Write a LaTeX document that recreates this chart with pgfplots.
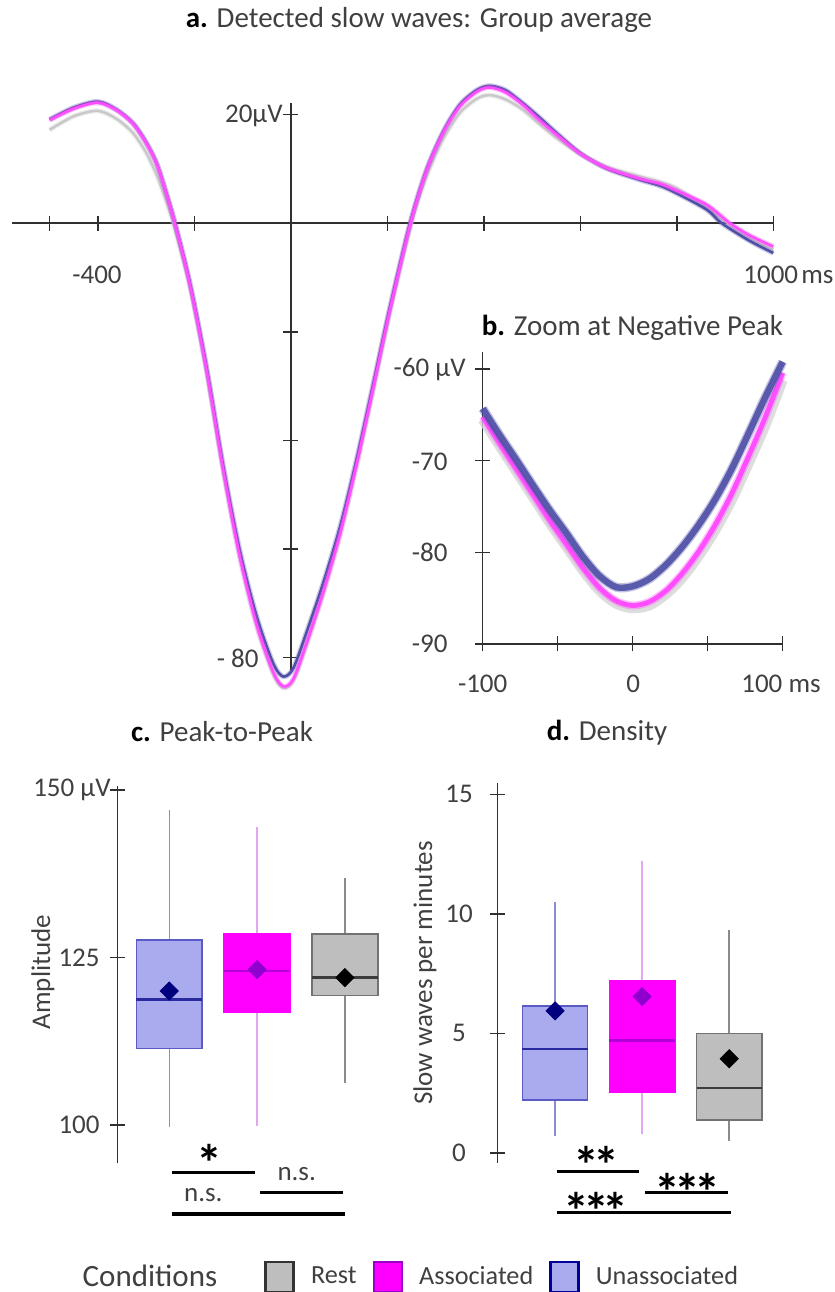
\documentclass[border=0pt]{standalone}
\usepackage{fontspec}
\setmainfont{Carlito}
\usepackage{pgfplots}
\pgfplotsset{compat=1.18}
\usepackage{pgfplotstable}
\usepgfplotslibrary{statistics}

\definecolor{txt}{HTML}{404040}
\definecolor{axisc}{HTML}{303030}
\definecolor{unasLine}{HTML}{4F4FA8}
\definecolor{assocLine}{HTML}{FF4DFF}
\definecolor{restLine}{HTML}{C9C9C9}
\definecolor{unasFill}{HTML}{AAAAEE}
\definecolor{unasDraw}{HTML}{5A5AC4}
\definecolor{unasMed}{HTML}{2A2AA0}
\definecolor{unasWhisk}{HTML}{8C8CD2}
\definecolor{unasMean}{HTML}{00007E}
\definecolor{assocFill}{HTML}{FF00FF}
\definecolor{assocMed}{HTML}{B400D8}
\definecolor{assocWhisk}{HTML}{E2A6F2}
\definecolor{assocMean}{HTML}{8F00CF}
\definecolor{restFill}{HTML}{BEBEBE}
\definecolor{restDraw}{HTML}{727272}
\definecolor{restMed}{HTML}{3C3C3C}
\definecolor{restWhisk}{HTML}{8A8A8A}
\definecolor{legUnas}{HTML}{000099}
\definecolor{legAssoc}{HTML}{9A00CC}
\definecolor{legRest}{HTML}{333333}

\newcommand\lab{\fontsize{13.5}{16}\selectfont}
\newcommand\ttl{\fontsize{14.5}{17}\selectfont}
\newcommand\stars{\fontsize{26}{26}\selectfont\bfseries}

% ---- a. group average waveforms (ms, microvolt)
\pgfplotstableread{
t v
-500 19.1
-450 21.3
-400 22.4
-361 20.9
-327 18.4
-300 14.9
-278 11.0
-260 6.1
-240 0.0
-209 -11.1
-175 -26.4
-140 -44.8
-106 -60.2
-71 -72.4
-37 -81.0
-16 -83.5
5 -82.0
32 -75.5
67 -66.3
102 -55.9
136 -43.6
171 -29.5
205 -15.6
247 0.0
281 9.8
316 16.9
350 21.8
385 24.5
412 25.3
445 24.5
481 22.1
515 19.5
551 16.6
600 12.9
654 10.1
723 8.0
765 6.9
800 5.5
862 2.5
893 0.0
950 -3.2
1000 -5.5
}\unasA
\pgfplotstableread{
t v
-500 19.0
-450 21.1
-400 22.2
-361 20.8
-327 18.3
-300 14.8
-278 10.9
-260 6.0
-240 -0.2
-209 -11.4
-175 -26.9
-140 -45.5
-106 -61.3
-71 -73.9
-37 -82.6
-16 -85.3
5 -84.0
32 -77.5
67 -68.0
102 -57.2
136 -44.5
171 -30.2
205 -16.1
248 0.0
281 9.6
316 16.7
350 21.5
385 24.2
412 25.0
445 24.1
481 21.8
515 19.0
551 16.3
600 12.8
654 10.2
723 8.2
765 7.3
800 6.0
862 3.4
910 0.0
950 -2.2
1000 -4.3
}\assocA
\pgfplotstableread{
t v
-500 17.2
-450 19.7
-400 20.7
-361 19.2
-327 16.6
-300 13.0
-278 8.9
-260 4.5
-244 0.0
-209 -11.8
-175 -27.2
-140 -45.6
-106 -61.5
-71 -74.1
-37 -82.9
-16 -85.6
5 -84.3
32 -77.8
67 -68.3
102 -57.4
136 -44.7
171 -30.6
205 -16.6
250 0.0
283 9.0
316 15.6
350 20.3
385 22.9
412 23.6
445 22.8
481 20.9
515 18.3
551 15.7
600 12.7
654 10.4
723 8.6
765 7.6
800 6.4
862 2.9
906 0.0
950 -2.6
1000 -4.9
}\restA

% ---- b. negative peak, -100 to 100 ms
\pgfplotstableread{
t v
-100 -64.3
-88.7 -67.2
-77.6 -69.9
-66.4 -72.7
-55.3 -75.4
-44.2 -77.9
-33.1 -80.5
-22 -82.6
-11 -83.8
0 -83.7
11 -82.9
22 -81.4
33 -79.4
44 -77.0
55 -74.2
66 -70.9
77 -67.1
88 -63.2
100 -59.2
}\unasB
\pgfplotstableread{
t v
-100 -65.2
-88.7 -68.1
-77.6 -70.9
-66.4 -73.7
-55.3 -76.5
-44.2 -79.1
-33.1 -81.7
-22 -83.9
-11 -85.3
0 -85.8
11 -85.4
22 -84.2
33 -82.3
44 -79.9
55 -77.0
66 -73.6
77 -69.6
88 -65.4
100 -60.4
}\assocB
\pgfplotstableread{
t v
-100 -65.5
-88.7 -68.4
-77.6 -71.2
-66.4 -74.0
-55.3 -76.8
-44.2 -79.4
-33.1 -82.0
-22 -84.2
-11 -85.6
0 -86.1
11 -85.8
22 -84.6
33 -82.8
44 -80.4
55 -77.6
66 -74.3
77 -70.4
88 -66.3
100 -61.2
}\restB

\pgfplotsset{
  panel/.style={scale only axis, enlargelimits=false, clip=false,
    axis line style={-, draw=axisc, line width=0.75pt},
    tick style={draw=axisc, line width=0.75pt},
    tick align=center, major tick length=7.5pt,
    xticklabels={}, yticklabels={}},
  halo/.style={line width=2.6pt, opacity=0.3, smooth},
  core/.style={line width=1.3pt, smooth},
  sbox/.style={boxplot/draw direction=y, boxplot/box extend=0.75, boxplot/whisker extend=0},
}

\begin{document}
\begin{tikzpicture}
\useasboundingbox (0,0) rectangle (417.5pt,646pt);

% a. Detected slow waves
\begin{axis}[panel, at={(6pt,311pt)}, anchor=south west,
  width=380.65pt, height=283.65pt,
  xmin=-578, xmax=1000, ymin=-82.3, ymax=22.2,
  axis lines=middle, axis line style={-},
  xtick={-500,-400,-200,200,400,600,800,1000},
  ytick={-80,-60,-40,-20,20}]
\addplot[restLine, halo] table[x=t,y=v] {\restA};
\addplot[restLine, core] table[x=t,y=v] {\restA};
\addplot[unasLine, halo] table[x=t,y=v] {\unasA};
\addplot[unasLine, core] table[x=t,y=v] {\unasA};
\addplot[assocLine, halo] table[x=t,y=v] {\assocA};
\addplot[assocLine, core] table[x=t,y=v] {\assocA};
\end{axis}

% b. Zoom at negative peak
\begin{axis}[panel, at={(241.35pt,324pt)}, anchor=south west,
  width=150pt, height=146.15pt,
  xmin=-100, xmax=100, ymin=-90, ymax=-58.1,
  axis x line=bottom, axis y line=left, axis line style={-},
  xtick={-100,-50,0,50,100}, ytick={-90,-80,-70,-60}]
\addplot[restLine!80, line width=5pt, opacity=0.8, smooth] table[x=t,y=v] {\restB};
\addplot[assocLine, line width=4pt, opacity=0.35, smooth] table[x=t,y=v] {\assocB};
\addplot[assocLine, line width=2.4pt, smooth] table[x=t,y=v] {\assocB};
\addplot[unasLine, line width=4.6pt, opacity=0.35, smooth] table[x=t,y=v] {\unasB};
\addplot[unasLine, line width=3.2pt, opacity=0.9, smooth] table[x=t,y=v] {\unasB};
\end{axis}

% c. Peak-to-peak amplitude
\begin{axis}[panel, at={(58.85pt,64.35pt)}, anchor=south west,
  width=135.55pt, height=188.65pt,
  xmin=0.412, xmax=3.5, ymin=94.28, ymax=150.6,
  axis y line=left, axis x line=none, axis line style={-},
  xtick=\empty, ytick={100,125,150},
  legend style={at={(0.5397,-0.3013)}, anchor=west, draw=none, fill=none,
    legend columns=-1, inner sep=0pt, font=\fontsize{13.1}{16}\selectfont,
    text=txt, nodes={inner sep=0pt},
    /tikz/every odd column/.append style={column sep=8pt},
    /tikz/every even column/.append style={column sep=8pt}}]
\addlegendimage{legend image code/.code={\draw[fill=restFill, draw=legRest, line width=1.3pt] (0pt,-7.5pt) rectangle (14pt,7.5pt);}}
\addlegendentry{Rest}
\addlegendimage{legend image code/.code={\draw[fill=assocFill, draw=legAssoc, line width=1.3pt] (0pt,-7.5pt) rectangle (14pt,7.5pt);}}
\addlegendentry{Associated}
\addlegendimage{legend image code/.code={\draw[fill=unasFill, draw=legUnas, line width=1.3pt] (0pt,-7.5pt) rectangle (14pt,7.5pt);}}
\addlegendentry{Unassociated}
\addplot[sbox, boxplot prepared={lower whisker=99.75, lower quartile=111.4,
    median=118.7, upper quartile=127.6, upper whisker=147.0, draw position=1},
  fill=unasFill, draw=unasDraw, line width=0.8pt,
  boxplot/every median/.style={draw=unasMed, line width=1.3pt},
  boxplot/every whisker/.style={draw=unasWhisk, line width=0.8pt}] coordinates {};
\addplot[sbox, boxplot prepared={lower whisker=99.85, lower quartile=116.8,
    median=123.0, upper quartile=128.6, upper whisker=144.5, draw position=2},
  fill=assocFill, draw=assocFill, line width=0.8pt,
  boxplot/every median/.style={draw=assocMed, line width=1.1pt},
  boxplot/every whisker/.style={draw=assocWhisk, line width=0.8pt}] coordinates {};
\addplot[sbox, boxplot prepared={lower whisker=106.3, lower quartile=119.3,
    median=122.0, upper quartile=128.5, upper whisker=136.9, draw position=3},
  fill=restFill, draw=restDraw, line width=0.8pt,
  boxplot/every median/.style={draw=restMed, line width=1.1pt},
  boxplot/every whisker/.style={draw=restWhisk, line width=0.8pt}] coordinates {};
\addplot[only marks, mark=square*, mark size=3.2pt, mark options={rotate=45, fill=unasMean, draw=unasMean}] coordinates {(1,120.0)};
\addplot[only marks, mark=square*, mark size=3.2pt, mark options={rotate=45, fill=assocMean, draw=assocMean}] coordinates {(2,123.2)};
\addplot[only marks, mark=square*, mark size=3.2pt, mark options={rotate=45, fill=black, draw=black}] coordinates {(3,122.0)};
\end{axis}

% d. Density
\begin{axis}[panel, at={(248.85pt,64.5pt)}, anchor=south west,
  width=137.55pt, height=190.15pt,
  xmin=0.342, xmax=3.5, ymin=-0.41, ymax=15.49,
  axis y line=left, axis x line=none, axis line style={-},
  xtick=\empty, ytick={0,5,10,15}]
\addplot[sbox, boxplot prepared={lower whisker=0.70, lower quartile=2.23,
    median=4.35, upper quartile=6.16, upper whisker=10.5, draw position=1},
  fill=unasFill, draw=unasDraw, line width=0.8pt,
  boxplot/every median/.style={draw=unasMed, line width=1.3pt},
  boxplot/every whisker/.style={draw=unasWhisk, line width=0.8pt}] coordinates {};
\addplot[sbox, boxplot prepared={lower whisker=0.79, lower quartile=2.55,
    median=4.71, upper quartile=7.22, upper whisker=12.23, draw position=2},
  fill=assocFill, draw=assocFill, line width=0.8pt,
  boxplot/every median/.style={draw=assocMed, line width=1.1pt},
  boxplot/every whisker/.style={draw=assocWhisk, line width=0.8pt}] coordinates {};
\addplot[sbox, boxplot prepared={lower whisker=0.49, lower quartile=1.39,
    median=2.72, upper quartile=5.0, upper whisker=9.34, draw position=3},
  fill=restFill, draw=restDraw, line width=0.8pt,
  boxplot/every median/.style={draw=restMed, line width=1.1pt},
  boxplot/every whisker/.style={draw=restWhisk, line width=0.8pt}] coordinates {};
\addplot[only marks, mark=square*, mark size=3.2pt, mark options={rotate=45, fill=unasMean, draw=unasMean}] coordinates {(1,5.95)};
\addplot[only marks, mark=square*, mark size=3.2pt, mark options={rotate=45, fill=assocMean, draw=assocMean}] coordinates {(2,6.55)};
\addplot[only marks, mark=square*, mark size=3.2pt, mark options={rotate=45, fill=black, draw=black}] coordinates {(3,3.95)};
\end{axis}

% titles, tick labels and significance brackets
\begin{scope}[x=0.5pt, y=-0.5pt, yshift=646pt, every node/.style={text=txt, inner sep=0pt}]
\node[font=\ttl] at (419,20) {\textcolor{black}{\textbf{a.}} Detected slow waves: Group average};
\node[font=\ttl] at (632.5,328) {\textcolor{black}{\textbf{b.}} Zoom at Negative Peak};
\node[font=\ttl] at (222,732) {\textcolor{black}{\textbf{c.}} Peak-to-Peak};
\node[font=\ttl] at (607,733) {\textcolor{black}{\textbf{d.}} Density};

% a
\node[font=\lab] at (97,275) {-400};
\node[font=\lab, anchor=west] at (743,275) {1000\hspace{0.12em}ms};
\node[font=\lab, anchor=east] at (283,116) {20µV};
\node[font=\lab, anchor=east] at (259,658) {- 80};

% b
\node[font=\lab, anchor=east] at (466,369.3) {-60 µV};
\node[font=\lab, anchor=east] at (448,461.7) {-70};
\node[font=\lab, anchor=east] at (448,552.7) {-80};
\node[font=\lab, anchor=east] at (448,644) {-90};
\node[font=\lab] at (482.7,684) {-100};
\node[font=\lab] at (633.3,684) {0};
\node[font=\lab] at (781,684) {100 ms};

% c
\node[font=\lab, anchor=east] at (111,790) {150 µV};
\node[font=\lab, anchor=east] at (100,957.7) {125};
\node[font=\lab, anchor=east] at (100,1125) {100};
\node[font=\lab, rotate=90] at (43,972) {Amplitude};

% d
\node[font=\lab] at (459,794.3) {15};
\node[font=\lab] at (459,913.7) {10};
\node[font=\lab] at (459,1033.3) {5};
\node[font=\lab] at (459,1153.3) {0};
\node[font=\lab, rotate=90] at (425,973) {Slow waves per minutes};

% significance, c
\draw[black, line width=1.65pt] (171.7,1172.7) -- (255,1172.7);
\draw[black, line width=1.65pt] (260,1192.7) -- (343.3,1192.7);
\draw[black, line width=1.65pt] (171.7,1214) -- (345,1214);
\node[font=\stars, text=black, anchor=base] at (209.3,1182) {*};
\node[font=\lab] at (296.7,1174) {n.s.};
\node[font=\lab] at (203.3,1195) {n.s.};

% significance, d
\draw[black, line width=1.65pt] (556.7,1171.7) -- (639.3,1171.7);
\draw[black, line width=1.65pt] (645,1192.7) -- (728.3,1192.7);
\draw[black, line width=1.65pt] (556.7,1212.7) -- (730.7,1212.7);
\node[font=\stars, text=black, anchor=base] at (596.7,1184) {*\kern-3pt*};
\node[font=\stars, text=black, anchor=base] at (687.3,1210) {*\kern-3pt*\kern-3pt*};
\node[font=\stars, text=black, anchor=base] at (596,1230) {*\kern-3pt*\kern-3pt*};

% legend heading
\node[font=\fontsize{15.5}{18}\selectfont] at (150,1276) {Conditions};
\end{scope}
\end{tikzpicture}
\end{document}
